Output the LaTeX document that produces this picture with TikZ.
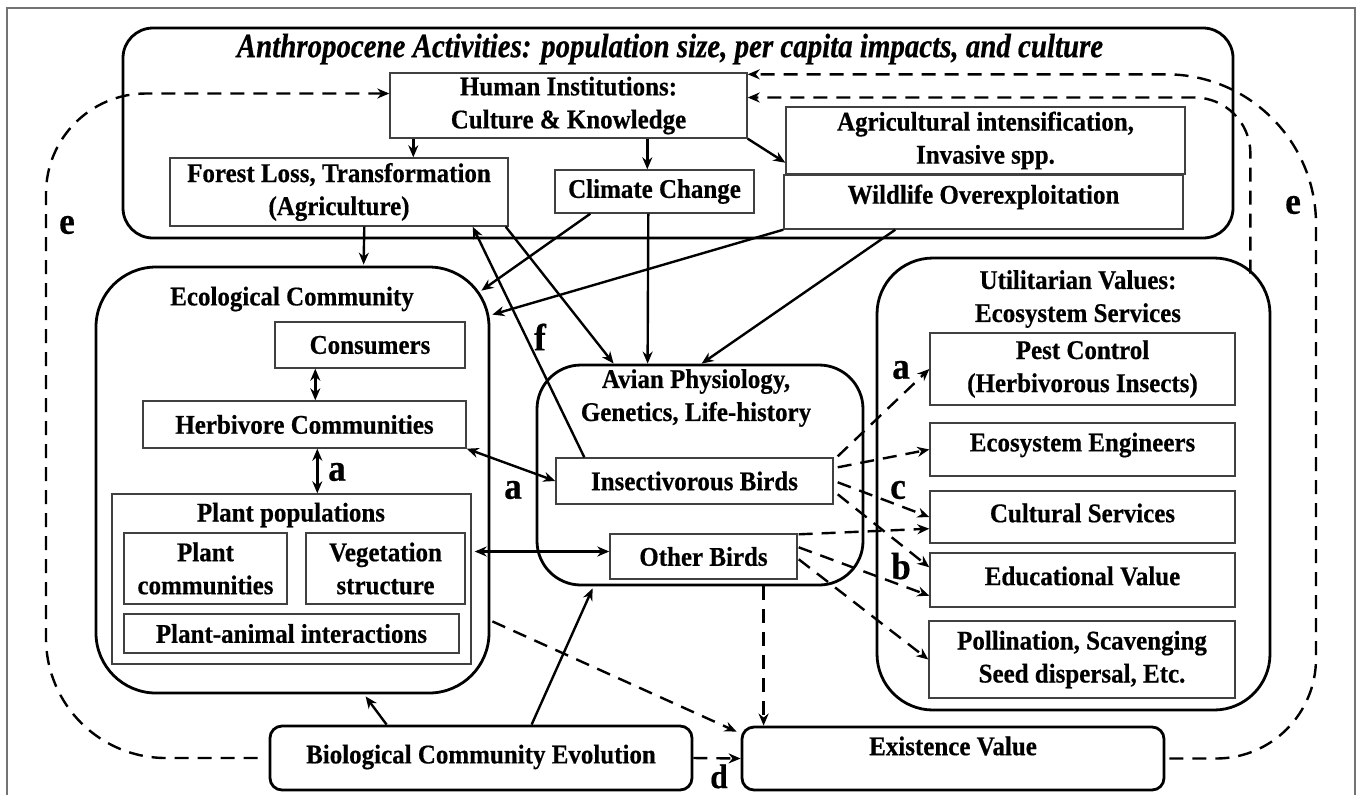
\documentclass[tikz,border=0pt]{standalone}
\usepackage{fontspec}
\setmainfont[FakeStretch=0.925,FakeBold=0.5]{Liberation Serif}
\newfontfamily\titlefont[FakeStretch=0.85,FakeBold=0.5]{Liberation Serif}
\usepackage{tikz}
\usetikzlibrary{arrows.meta,calc}
\tikzset{
  txt/.style={font=\fontsize{13.5}{16.5}\selectfont\bfseries,align=center},
  box/.style={txt,draw=black!75,line width=0.7pt,inner sep=0pt},
  pane/.style={draw,line width=1.4pt,inner sep=0pt},
  lbl/.style={font=\fontsize{19}{20}\selectfont\bfseries,inner sep=0pt},
  arr/.style={-{Stealth[length=6pt,width=5pt]},line width=1.2pt},
  biarr/.style={{Stealth[length=6pt,width=5pt]}-{Stealth[length=6pt,width=5pt]},line width=1.2pt},
  dsh/.style={arr,dash pattern=on 7pt off 4.5pt},
}

\begin{document}
\begin{tikzpicture}[x=0.5pt,y=-0.5pt]
  \useasboundingbox (0,0) rectangle (1358,794);
  \draw[black!55,line width=0.6pt] (7,8) rectangle (1355,830);

  % human activities
  \node[pane,rounded corners=15pt,minimum width=555pt,minimum height=105pt] (anthro) at (678,133) {};
  \node[font=\fontsize{17}{19}\titlefont\bfseries\itshape] (anthrot) at (670,49)
    {Anthropocene Activities: population size, per capita impacts, and culture};
  \node[box,minimum width=178.5pt,minimum height=32.5pt] (hum) at (568.5,105.5) {Human Institutions:\\Culture \& Knowledge};
  \node[box,minimum width=169pt,minimum height=34pt] (forest) at (339,192) {Forest Loss, Transformation\\(Agriculture)};
  \node[box,minimum width=99.5pt,minimum height=21.5pt] (clim) at (654.5,191.5) {Climate Change};
  \node[box,minimum width=199.5pt,minimum height=33.5pt] (agri) at (985.5,140.5) {Agricultural intensification,\\Invasive spp.};
  \node[box,minimum width=199.5pt,minimum height=27pt] (wild) at (983.5,202) {};
  \node[txt] (wildt) at (983.5,197) {Wildlife Overexploitation};

  % ecological community
  \node[pane,rounded corners=30pt,minimum width=196.5pt,minimum height=213pt] (ecocom) at (292.5,480) {};
  \node[txt] (ecocomt) at (292,299) {Ecological Community};
  \node[box,minimum width=95pt,minimum height=23pt] (cons) at (370,345) {Consumers};
  \node[box,minimum width=161.5pt,minimum height=23.5pt] (herb) at (304.5,424.5) {Herbivore Communities};
  \node[box,minimum width=179.5pt,minimum height=85pt] (plpop) at (291.5,579) {};
  \node[txt] (plpopt) at (291,515) {Plant populations};
  \node[box,minimum width=81.5pt,minimum height=35.5pt] (plcom) at (205.5,568.5) {Plant\\communities};
  \node[box,minimum width=79.5pt,minimum height=35.5pt] (veg) at (385.5,568.5) {Vegetation\\structure};
  \node[box,minimum width=167.5pt,minimum height=19.5pt] (plan) at (291.5,633.5) {Plant-animal interactions};

  % birds
  \node[pane,rounded corners=22pt,minimum width=163pt,minimum height=110pt] (avian) at (700,475) {};
  \node[txt] (aviant) at (696,398) {Avian Physiology,\\Genetics, Life-history};
  \node[box,minimum width=138.5pt,minimum height=23pt] (ins) at (694.5,481) {Insectivorous Birds};
  \node[box,minimum width=93.5pt,minimum height=22.5pt] (oth) at (703.5,556.5) {Other Birds};

  % services
  \node[pane,rounded corners=28pt,minimum width=196.5pt,minimum height=226pt] (util) at (1073.5,484) {};
  \node[txt] (utilt) at (1078,299) {Utilitarian Values:\\Ecosystem Services};
  \node[box,minimum width=152.5pt,minimum height=36pt] (pest) at (1082.5,369) {Pest Control\\(Herbivorous Insects)};
  \node[box,minimum width=152.5pt,minimum height=26.5pt] (engi) at (1082.5,449.5) {};
  \node[txt] (engit) at (1082.5,445) {Ecosystem Engineers};
  \node[box,minimum width=152.5pt,minimum height=26pt] (cult) at (1082.5,517) {};
  \node[txt] (cultt) at (1082.5,513) {Cultural Services};
  \node[box,minimum width=152.5pt,minimum height=27pt] (educ) at (1082.5,580) {};
  \node[txt] (educt) at (1082.5,576) {Educational Value};
  \node[box,minimum width=153pt,minimum height=38.5pt] (poll) at (1082,659.5) {Pollination, Scavenging\\Seed dispersal, Etc.};

  % bottom row
  \node[pane,rounded corners=6pt,minimum width=211pt,minimum height=32pt] (bio) at (481,758) {};
  \node[txt] (biot) at (481,757) {Biological Community Evolution};
  \node[pane,rounded corners=6pt,minimum width=211pt,minimum height=31.5pt] (exist) at (953,758.5) {};
  \node[txt] (existt) at (953,746) {Existence Value};

  % drivers
  \draw[arr] ($(hum.south west)+(24,0)$) -- ($(forest.north west)+(244,0)$);
  \draw[arr] ($(hum.south west)+(258,0)$) -- ($(clim.north west)+(93,0)$);
  \draw[arr] (hum.south east) -- ($(agri.south west)+(0,-12)$);
  \draw[arr] ($(forest.south west)+(195,0)$) -- ($(ecocom.north west)+(269,-1)$);
  \draw[arr] ($(clim.south west)+(36,0)$) -- ($(ecocom.north east)+(-9,25)$);
  \draw[arr] (wild.south west) -- ($(ecocom.north east)+(2,49)$);
  \draw[arr] ($(forest.south east)+(-3,0)$) -- ($(avian.north west)+(78,0)$);
  \draw[arr] ($(clim.south west)+(94,0)$) -- ($(avian.north west)+(112,0)$);
  \draw[arr] ($(wild.south west)+(112,0)$) -- ($(avian.north west)+(166,0)$);
  \draw[arr] ($(ins.north west)+(29,0)$) -- ($(forest.south east)+(-36,0)$);
  \node[lbl] (lf) at (540,337) {f};

  % trophic links
  \draw[biarr] ($(cons.south west)+(41,0)$) -- ($(herb.north west)+(173,0)$);
  \draw[biarr] ($(herb.south west)+(175,0)$) -- ($(plpop.north west)+(206,0)$);
  \node[lbl] (la1) at (337,472) {a};
  \draw[biarr] (herb.south east) -- (ins.west);
  \node[lbl] (la2) at (513,490) {a};
  \draw[biarr] ($(plpop.east |- oth.west)+(3,-5)$) -- ($(oth.west)+(0,-5)$);

  % evolution
  \draw[arr] ($(bio.north west)+(118,0)$) -- ($(ecocom.south west)+(271,2)$);
  \draw[arr] ($(bio.north west)+(263,0)$) -- ($(avian.south west)+(57,2)$);

  % services (dashed)
  \draw[dsh] ($(ins.north east)+(4,-1)$) -- (pest.west);
  \draw[dsh] ($(ins.north east)+(4,10)$) -- (engi.west);
  \draw[dsh] ($(ins.north east)+(4,25)$) -- (cult.west);
  \draw[dsh] ($(ins.north east)+(4,37)$) -- ($(educ.north west)+(0,15)$);
  \draw[dsh] ($(oth.north east)+(1,1)$) -- ($(cult.south west)+(0,-15)$);
  \draw[dsh] ($(oth.north east)+(1,14)$) -- ($(educ.south west)+(0,-12)$);
  \draw[dsh] ($(oth.north east)+(1,26)$) -- (poll.west);
  \node[lbl] (la3) at (901,370) {a};
  \node[lbl] (lc) at (898,490) {c};
  \node[lbl] (lb) at (901,566) {b};

  % existence
  \draw[dsh] ($(avian.south west)+(228,0)$) -- ($(exist.north west)+(23,0)$);
  \draw[dsh] ($(ecocom.south east)+(2,-73)$) -- ($(exist.north west)+(-4,6)$);
  \draw[dsh] (bio.east) -- (exist.west);
  \node[lbl,font=\fontsize{17}{18}\selectfont\bfseries,anchor=north] (ld) at (719,764) {d};

  % feedback loops e
  \coordinate (eleft) at (46,400);
  \coordinate (eright) at (1316,400);
  \draw[dsh] ($(bio.west)+(-11,0)$) [rounded corners=60pt] -| (eleft)
    [rounded corners=50pt] |- ($(hum.west)+(0,-12)$);
  \draw[dsh,rounded corners=28pt] ($(util.north east)+(-21,17)$) |- ($(hum.east)+(0,-8)$);
  \draw[dsh] ($(exist.east)+(4,0)$) [rounded corners=50pt] -| (eright)
    [rounded corners=75pt] |- ($(hum.north east)+(0,2)$);
  \node[lbl] (le1) at (67,225) {e};
  \node[lbl] (le2) at (1293,205) {e};
\end{tikzpicture}
\end{document}
